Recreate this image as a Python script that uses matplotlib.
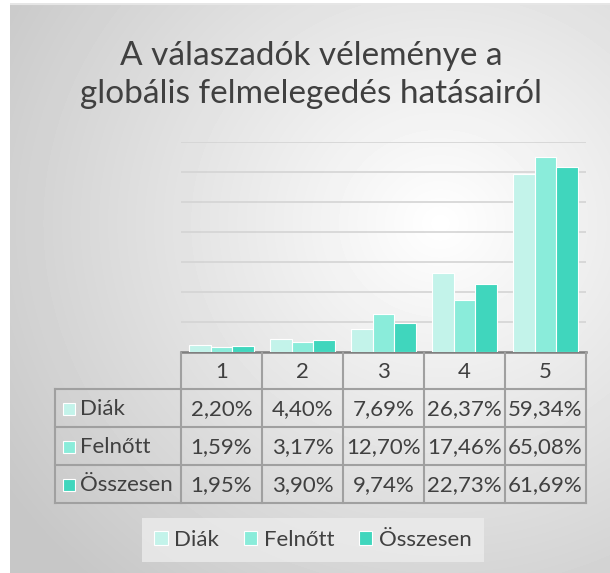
import numpy as np
import matplotlib.pyplot as plt
from matplotlib.patches import Rectangle

plt.rcParams['font.family'] = ['Lato', 'DejaVu Sans']

# data
categories = ["1", "2", "3", "4", "5"]
series_names = ["Diák", "Felnőtt", "Összesen"]
diak = [2.20, 4.40, 7.69, 26.37, 59.34]
felnott = [1.59, 3.17, 12.70, 17.46, 65.08]
osszesen = [1.95, 3.90, 9.74, 22.73, 61.69]
colors = ["#c3f3ea", "#8aecda", "#40d6bd"]
title = "A válaszadók véleménye a\nglobális felmelegedés hatásairól"

W, H = 610, 573
fig = plt.figure(figsize=(W / 100, H / 100), dpi=100)
fig.patch.set_facecolor("white")

def fx(px):
    return px / W

def fy(py):
    return 1 - py / H

# radial gradient background of the chart area
bg = fig.add_axes([fx(10), 0, 1 - fx(10), fy(3)])
yy, xx = np.mgrid[0:570, 0:600]
d = np.sqrt(((xx - 430) / 520) ** 2 + ((yy - 220) / 480) ** 2)
shade = np.clip(1.0 - 0.22 * d, 0.78, 1.0)
bg.imshow(shade, cmap="gray", vmin=0, vmax=1, aspect="auto", interpolation="bilinear")
bg.set_axis_off()
bg.axhline(0, color="#e6e6e6", lw=1.5)

# bar chart
ax = fig.add_axes([fx(181), fy(352), fx(586) - fx(181), fy(142) - fy(352)])
ax.set_facecolor("none")
x = np.arange(len(categories))
w = 0.27
for i, (vals, c) in enumerate(zip([diak, felnott, osszesen], colors)):
    ax.bar(x + (i - 1) * w, vals, width=w, color=c, edgecolor="white", linewidth=0.8,
           label=series_names[i], zorder=3)
ax.set_xlim(-0.5, len(categories) - 0.5)
ax.set_ylim(0, 70)
ax.set_yticks(np.arange(0, 71, 10))
ax.yaxis.grid(True, color="#d4d4d4", lw=1.2, zorder=0)
ax.tick_params(left=False, bottom=False, labelleft=False, labelbottom=False)
for s in ["top", "right", "left"]:
    ax.spines[s].set_visible(False)
ax.spines["bottom"].set_color("#7f7f7f")
ax.spines["bottom"].set_linewidth(1.8)

# data table under the axis
tab = fig.add_axes([0, 0, 1, 1])
tab.set_xlim(0, W)
tab.set_ylim(H, 0)
tab.set_axis_off()
tab.patch.set_alpha(0)

col_x = [55, 181, 262, 343, 424, 505, 586]
row_y = [353, 389, 427, 465, 503]
lc, lw = "#a0a0a0", 1.5
txt = "#404040"
fs = 16

# header
tab.plot([181, 586], [row_y[1], row_y[1]], color=lc, lw=lw)
for cx in col_x[1:]:
    tab.plot([cx, cx], [row_y[0], row_y[-1]], color=lc, lw=lw)
for j, cat in enumerate(categories):
    tab.text((col_x[j + 1] + col_x[j + 2]) / 2, (row_y[0] + row_y[1]) / 2 + 1, cat,
             ha="center", va="center", fontsize=fs, color=txt)
# body rows
for r in range(2, len(row_y)):
    tab.plot([col_x[0], col_x[-1]], [row_y[r], row_y[r]], color=lc, lw=lw)
tab.plot([col_x[0], col_x[0]], [row_y[1], row_y[-1]], color=lc, lw=lw)
tab.plot([col_x[0], 181], [row_y[1], row_y[1]], color=lc, lw=lw)

for i, (name, vals, c) in enumerate(zip(series_names, [diak, felnott, osszesen], colors)):
    cy = (row_y[i + 1] + row_y[i + 2]) / 2 + 1
    tab.add_patch(Rectangle((63, cy - 6), 12, 12, facecolor=c, edgecolor="white", lw=0.8))
    tab.text(80, cy, name, ha="left", va="center", fontsize=fs, color=txt)
    for j, v in enumerate(vals):
        tab.text((col_x[j + 1] + col_x[j + 2]) / 2, cy, f"{v:.2f}%".replace(".", ","),
                 ha="center", va="center", fontsize=fs, color=txt)

# title
fig.text(fx(311), fy(75), title, ha="center", va="center", fontsize=24, color=txt,
         linespacing=1.35)

# legend
handles, labels = ax.get_legend_handles_labels()
leg = fig.legend(handles, labels, loc="center", bbox_to_anchor=(fx(313), fy(540)),
                 ncol=3, frameon=True, fontsize=16, handlelength=0.6, handleheight=0.6,
                 handletextpad=0.3, columnspacing=1.1, borderpad=0.55)
leg.get_frame().set_facecolor("#ececec")
leg.get_frame().set_edgecolor("none")
leg.get_frame().set_alpha(0.8)
leg.get_frame().set_boxstyle("square", pad=0)
for t in leg.get_texts():
    t.set_color(txt)

fig.savefig("out.png", dpi=100)
